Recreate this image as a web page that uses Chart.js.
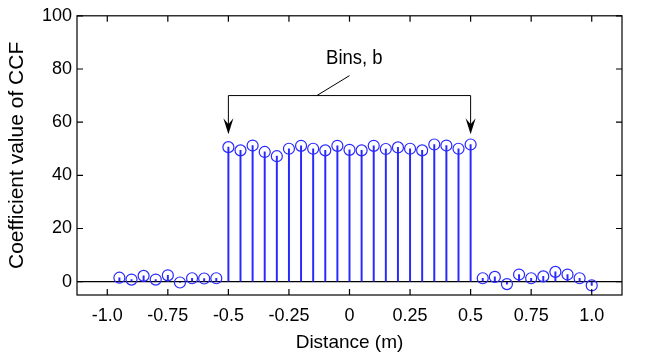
<!DOCTYPE html>
<html>
<head>
<meta charset="utf-8">
<script src="https://cdn.jsdelivr.net/npm/chart.js@4"></script>
<style>
  body { margin: 0; background: #fff; }
  #wrap { width: 662px; height: 361px; }
</style>
</head>
<body>
<div id="wrap"><canvas id="myChart" width="662" height="361"></canvas></div>
<script>
const ctx = document.getElementById("myChart").getContext("2d");

// distance positions of the stems (m)
const distances = [
  -0.95, -0.9, -0.85, -0.8, -0.75, -0.7, -0.65, -0.6, -0.55,
  -0.5, -0.45, -0.4, -0.35, -0.3, -0.25, -0.2, -0.15, -0.1, -0.05,
  0, 0.05, 0.1, 0.15, 0.2, 0.25, 0.3, 0.35, 0.4, 0.45, 0.5,
  0.55, 0.6, 0.65, 0.7, 0.75, 0.8, 0.85, 0.9, 0.95, 1.0,
];
// coefficient value of CCF at each distance
const ccfValues = [
  1.5, 0.8, 2.2, 0.8, 2.4, -0.3, 1.3, 1.2, 1.3,
  50.6, 49.4, 51.2, 48.8, 47.2, 50.0, 51.1, 50.0, 49.4, 51.1,
  49.6, 49.4, 51.1, 49.9, 50.5, 50.0, 49.4, 51.6, 51.2, 50.0, 51.6,
  1.3, 1.8, -0.9, 2.7, 1.3, 2.0, 3.7, 2.7, 1.3, -1.4,
];
const xTicks = [-1.0, -0.75, -0.5, -0.25, 0, 0.25, 0.5, 0.75, 1.0];
const xTickLabels = ["-1.0", "-0.75", "-0.5", "-0.25", "0", "0.25", "0.5", "0.75", "1.0"];
const yTicks = [0, 20, 40, 60, 80, 100];

const points = distances.map((d, i) => ({ x: d, y: ccfValues[i] }));
const stemBlue = "rgb(40,40,255)";
const font = "Liberation Sans, Arial, sans-serif";

// MATLAB style box, inside ticks and the "Bins, b" bracket
const matlabLook = {
  id: "matlabLook",
  afterDatasetsDraw(chart) {
    const c = chart.ctx;
    const a = chart.chartArea;
    const xs = chart.scales.x;
    const ys = chart.scales.y;
    c.save();
    c.strokeStyle = "#000";
    c.lineWidth = 1.2;
    c.strokeRect(a.left, a.top, a.right - a.left, a.bottom - a.top);
    c.beginPath();
    xTicks.forEach((v) => {
      const px = xs.getPixelForValue(v);
      c.moveTo(px, a.bottom); c.lineTo(px, a.bottom - 6);
      c.moveTo(px, a.top); c.lineTo(px, a.top + 6);
    });
    yTicks.forEach((v) => {
      const py = ys.getPixelForValue(v);
      c.moveTo(a.left, py); c.lineTo(a.left + 6, py);
      c.moveTo(a.right, py); c.lineTo(a.right - 6, py);
    });
    c.stroke();

    // bracket
    const xl = xs.getPixelForValue(-0.5);
    const xr = xs.getPixelForValue(0.5);
    const yb = ys.getPixelForValue(70);
    const yTip = ys.getPixelForValue(55.5);
    c.lineWidth = 1;
    c.beginPath();
    c.moveTo(xl, yTip - 10); c.lineTo(xl, yb); c.lineTo(xr, yb); c.lineTo(xr, yTip - 10);
    c.moveTo(xs.getPixelForValue(-0.135), yb);
    c.lineTo(xs.getPixelForValue(0.0), ys.getPixelForValue(77.5));
    c.stroke();
    c.fillStyle = "#000";
    [xl, xr].forEach((px) => {
      c.beginPath();
      c.moveTo(px - 5, yTip - 16);
      c.lineTo(px, yTip - 10);
      c.lineTo(px + 5, yTip - 16);
      c.lineTo(px, yTip);
      c.closePath();
      c.fill();
    });
    // label, slightly condensed like the original
    c.font = "21px " + font;
    c.textAlign = "center";
    c.textBaseline = "middle";
    c.translate(xs.getPixelForValue(0.02), ys.getPixelForValue(84));
    c.scale(0.88, 1);
    c.fillText("Bins, b", 0, 0);
    c.restore();
  },
};

const config = {
  type: "bar",
  data: {
    datasets: [
      {
        // circle heads of the stems
        type: "scatter",
        data: points,
        showLine: false,
        pointStyle: "circle",
        pointRadius: 5.5,
        pointBorderWidth: 1.2,
        pointBorderColor: stemBlue,
        pointBackgroundColor: "rgba(0,0,0,0)",
        order: 0,
      },
      {
        // stems
        type: "bar",
        data: points,
        backgroundColor: stemBlue,
        barThickness: 1.3,
        order: 1,
      },
    ],
  },
  options: {
    responsive: false,
    animation: false,
    layout: { padding: { left: 0, right: 40, top: 11, bottom: 0 } },
    plugins: {
      legend: { display: false },
      tooltip: { enabled: false },
    },
    scales: {
      x: {
        type: "linear",
        min: -1,
        max: 1,
        afterBuildTicks: (axis) => {
          axis.ticks = xTicks.map((v) => ({ value: v }));
        },
        afterFit: (axis) => {
          axis.height = 66;
        },
        ticks: {
          autoSkip: false,
          maxRotation: 0,
          padding: 2,
          color: "#000",
          font: { family: font, size: 18 },
          callback: (v) => xTickLabels[xTicks.indexOf(v)],
        },
        grid: { display: false },
        border: { display: false },
        title: {
          display: true,
          text: "Distance (m)",
          color: "#000",
          font: { family: font, size: 19 },
          padding: { top: 2, bottom: 7 },
        },
      },
      y: {
        min: -5,
        max: 100,
        afterBuildTicks: (axis) => {
          axis.ticks = yTicks.map((v) => ({ value: v }));
        },
        afterFit: (axis) => {
          axis.width = 77;
        },
        ticks: {
          padding: 5,
          color: "#000",
          font: { family: font, size: 18 },
        },
        grid: {
          drawTicks: false,
          lineWidth: 1.2,
          color: (c) => (c.tick && c.tick.value === 0 ? "#000" : "rgba(0,0,0,0)"),
        },
        border: { display: false },
        title: {
          display: true,
          text: "Coefficient value of CCF",
          color: "#000",
          font: { family: font, size: 21 },
          padding: { top: 5, bottom: 0 },
        },
      },
    },
  },
  plugins: [matlabLook],
};

const myChart = new Chart(ctx, config);
</script>
</body>
</html>
